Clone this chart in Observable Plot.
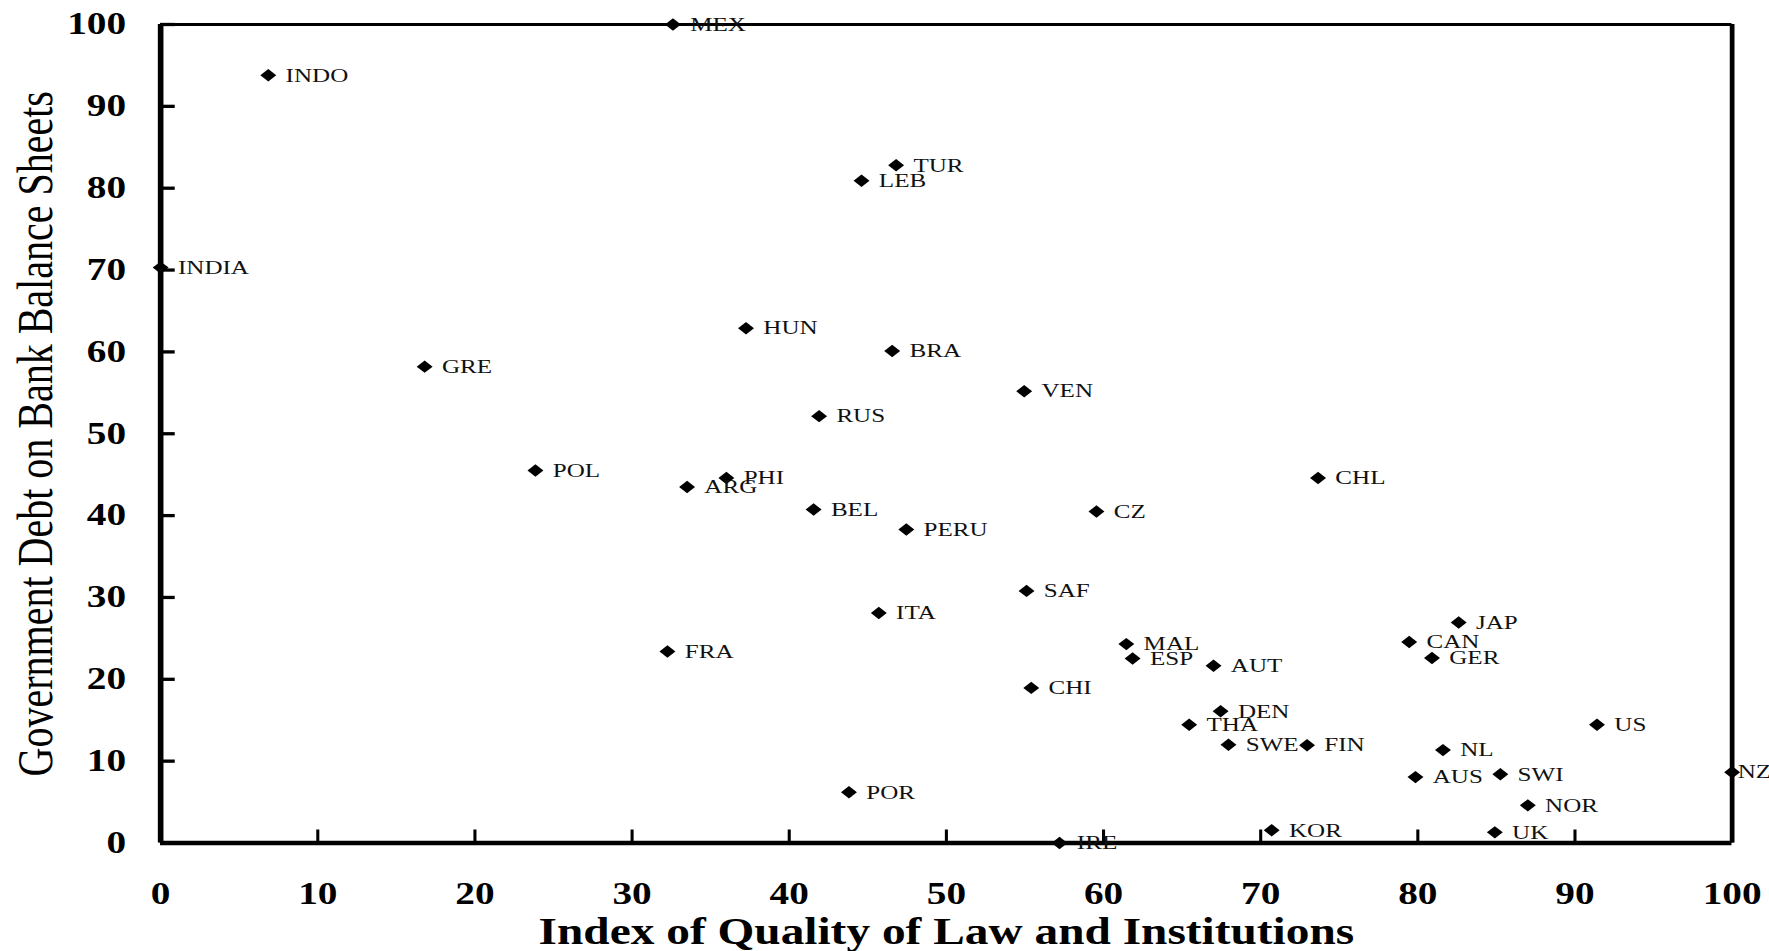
<!DOCTYPE html>
<html>
<head>
<meta charset="utf-8">
<script src="https://cdn.jsdelivr.net/npm/d3@7"></script>
<script src="https://cdn.jsdelivr.net/npm/@observablehq/plot@0.6"></script>
<style>
  html, body { margin: 0; padding: 0; background: #fff; overflow: hidden; }
</style>
</head>
<body>
<div id="chart"></div>
<script>
// ---- data ----
const countries = ["MEX","INDO","TUR","LEB","INDIA","HUN","BRA","GRE","VEN","RUS",
  "POL","CHL","PHI","ARG","BEL","CZ","PERU","SAF","ITA","JAP",
  "CAN","MAL","FRA","ESP","GER","AUT","CHI","DEN","THA","US",
  "SWE","FIN","NL","NZ","SWI","AUS","POR","NOR","KOR","UK","IRE"];
const lawIndex = [32.6, 6.85, 46.8, 44.6, 0, 37.25, 46.55, 16.8, 54.95, 41.9,
  23.85, 73.65, 36.0, 33.5, 41.55, 59.55, 47.45, 55.1, 45.7, 82.6,
  79.45, 61.45, 32.25, 61.85, 80.9, 67.0, 55.4, 67.45, 65.45, 91.4,
  67.95, 72.95, 81.6, 100, 85.25, 79.85, 43.8, 87.0, 70.7, 84.9, 57.2];
const govDebt = [100, 93.8, 82.8, 80.9, 70.3, 62.9, 60.1, 58.2, 55.2, 52.15,
  45.5, 44.6, 44.6, 43.5, 40.75, 40.5, 38.3, 30.8, 28.1, 26.95,
  24.55, 24.3, 23.4, 22.55, 22.6, 21.65, 18.95, 16.1, 14.45, 14.45,
  12.0, 11.95, 11.35, 8.65, 8.4, 8.05, 6.2, 4.6, 1.55, 1.3, 0];
const xTicks = [0, 10, 20, 30, 40, 50, 60, 70, 80, 90, 100];
const yTicks = [0, 10, 20, 30, 40, 50, 60, 70, 80, 90, 100];
const xTitle = "Index of Quality of Law and Institutions";
const yTitle = "Government Debt on Bank Balance Sheets";

const data = countries.map((c, i) => ({name: c, x: lawIndex[i], y: govDebt[i]}));

// the reference is horizontally stretched; draw in a narrower space and stretch the SVG
const FULL_W = 1769, H = 951, W = 1382;
const serif = "'Liberation Serif', 'Times New Roman', Times, serif";

const chart = Plot.plot({
  width: W,
  height: H,
  marginLeft: 125,
  marginRight: 29.3,
  marginTop: 24,
  marginBottom: 108.5,
  x: {domain: [0, 100]},
  y: {domain: [0, 100]},
  style: {fontFamily: serif, color: "#000", background: "#fff", overflow: "visible"},
  marks: [
    Plot.axisX(xTicks, {
      tickSize: -13, tickPadding: 52, fontSize: 30.7, fontWeight: "bold",
      strokeWidth: 2.4, label: null, tickFormat: d => String(d)
    }),
    Plot.axisY(yTicks, {
      tickSize: -11.5, tickPadding: 38.5, fontSize: 30.7, fontWeight: "bold",
      strokeWidth: 3.3, label: null, tickFormat: d => String(d)
    }),
    Plot.ruleY([100], {stroke: "#000", strokeWidth: 3}),
    Plot.ruleX([100], {stroke: "#000", strokeWidth: 3.7}),
    Plot.ruleX([0], {stroke: "#000", strokeWidth: 4.4}),
    Plot.ruleY([0], {stroke: "#000", strokeWidth: 4.3}),
    Plot.dot(data, {x: "x", y: "y", symbol: "diamond2", r: 5.6, fill: "#000", stroke: null}),
    Plot.text(data.filter(d => d.name !== "NZ"), {
      x: "x", y: "y", text: "name", textAnchor: "start", dx: 13.5,
      fontSize: 19.6, fill: "#111"
    }),
    Plot.text(data.filter(d => d.name === "NZ"), {
      x: "x", y: "y", text: "name", textAnchor: "start", dx: 4.3,
      fontSize: 19.6, fill: "#111"
    }),
    Plot.text([xTitle], {
      frameAnchor: "bottom", dy: 89, text: d => d, fontSize: 37,
      fontWeight: "bold", fill: "#000", lineAnchor: "middle", textAnchor: "middle"
    }),
    Plot.text([yTitle], {
      frameAnchor: "left", dx: -98, text: d => d, fontSize: 40,
      rotate: -90, fill: "#000", lineAnchor: "middle", textAnchor: "middle",
      ariaLabel: "y-title"
    })
  ]
});

// the reference's y title is drawn taller across its baseline
d3.select(chart).selectAll('g[aria-label="y-title"] text').each(function() {
  const t = this.getAttribute("transform") || "";
  this.setAttribute("transform", t + " scale(1,1.12)");
});

chart.setAttribute("width", FULL_W);
chart.setAttribute("height", H);
chart.setAttribute("viewBox", `0 0 ${W} ${H}`);
chart.setAttribute("preserveAspectRatio", "none");
chart.style.width = FULL_W + "px";
chart.style.height = H + "px";
chart.style.maxWidth = "none";
document.getElementById("chart").appendChild(chart);
</script>
</body>
</html>
